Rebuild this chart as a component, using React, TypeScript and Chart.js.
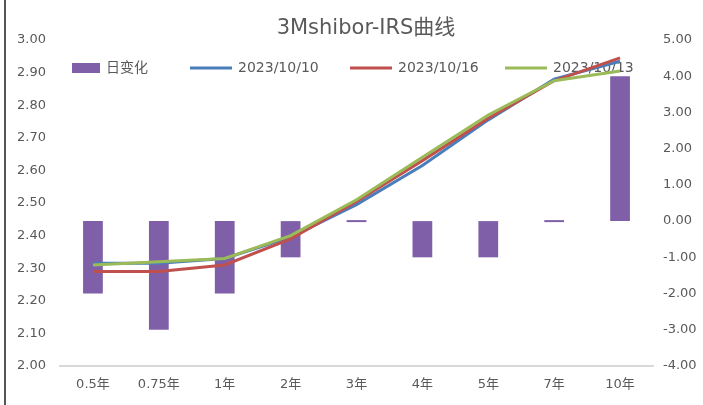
import React, { useEffect, useRef } from "react";
import { Chart, registerables } from "chart.js";

Chart.register(...registerables);

const categories = ["0.5年", "0.75年", "1年", "2年", "3年", "4年", "5年", "7年", "10年"];
const dailyChange = [-2, -3, -2, -1, 0, -1, -1, 0, 4];
const curve1010 = [2.315, 2.315, 2.33, 2.395, 2.495, 2.615, 2.755, 2.88, 2.935];
const curve1016 = [2.29, 2.29, 2.31, 2.39, 2.505, 2.63, 2.76, 2.875, 2.945];
const curve1013 = [2.31, 2.32, 2.33, 2.4, 2.51, 2.64, 2.77, 2.875, 2.905];
const seriesNames = ["日变化", "2023/10/10", "2023/10/16", "2023/10/13"];
const titleText = "3Mshibor-IRS曲线";

const FONT = "'DejaVu Sans', 'Noto Sans CJK SC', sans-serif";
const PURPLE = "#7F60A8";
const BLUE = "#4A7EBB";
const RED = "#C0504D";
const GREEN = "#9BBB59";
const TEXT = "#595959";

const overlayPlugin = {
  id: "overlay",
  beforeDatasetsDraw(chart: any) {
    const ctx = chart.ctx;
    ctx.save();
    ctx.fillStyle = TEXT;
    ctx.font = `21px ${FONT}`;
    ctx.textAlign = "center";
    ctx.textBaseline = "middle";
    ctx.fillText(titleText, 366, 29);

    const y = 68;
    ctx.font = `14px ${FONT}`;
    ctx.textAlign = "left";
    ctx.fillStyle = PURPLE;
    ctx.fillRect(72, y - 5, 28, 10);
    ctx.fillStyle = TEXT;
    ctx.fillText(seriesNames[0], 106, y);
    const items = [
      { x: 190, c: BLUE, t: seriesNames[1] },
      { x: 350, c: RED, t: seriesNames[2] },
      { x: 505, c: GREEN, t: seriesNames[3] },
    ];
    for (const it of items) {
      ctx.strokeStyle = it.c;
      ctx.lineWidth = 3;
      ctx.beginPath();
      ctx.moveTo(it.x, y);
      ctx.lineTo(it.x + 42, y);
      ctx.stroke();
      ctx.fillStyle = TEXT;
      ctx.fillText(it.t, it.x + 48, y);
    }
    ctx.restore();
  },
};

export default function App() {
  const ref = useRef<HTMLCanvasElement>(null);
  useEffect(() => {
    document.body.style.margin = "0";
    const chart = new Chart(ref.current!, {
      type: "bar",
      data: {
        labels: categories,
        datasets: [
          {
            type: "bar",
            label: seriesNames[0],
            data: dailyChange,
            backgroundColor: PURPLE,
            yAxisID: "y1",
            barPercentage: 0.3,
            categoryPercentage: 1,
            minBarLength: 2,
            order: 4,
          },
          {
            type: "line",
            label: seriesNames[1],
            data: curve1010,
            borderColor: BLUE,
            backgroundColor: BLUE,
            borderWidth: 3,
            pointRadius: 0,
            tension: 0,
            yAxisID: "y",
            order: 3,
          },
          {
            type: "line",
            label: seriesNames[2],
            data: curve1016,
            borderColor: RED,
            backgroundColor: RED,
            borderWidth: 3,
            pointRadius: 0,
            tension: 0,
            yAxisID: "y",
            order: 2,
          },
          {
            type: "line",
            label: seriesNames[3],
            data: curve1013,
            borderColor: GREEN,
            backgroundColor: GREEN,
            borderWidth: 3,
            pointRadius: 0,
            tension: 0,
            yAxisID: "y",
            order: 1,
          },
        ] as any,
      },
      options: {
        animation: false,
        responsive: true,
        maintainAspectRatio: false,
        layout: { padding: { top: 40, left: 0, right: 0, bottom: 0 } },
        plugins: {
          legend: { display: false },
          title: { display: false },
          tooltip: { enabled: false },
        },
        scales: {
          x: {
            grid: { display: false },
            border: { display: true, color: "#D9D9D9", width: 2 },
            ticks: { color: TEXT, font: { family: FONT, size: 13 }, padding: 3, maxRotation: 0 },
            afterFit(s: any) { s.height = 39; },
          },
          y: {
            position: "left",
            min: 2,
            max: 3,
            grid: { display: false },
            border: { display: false },
            ticks: {
              stepSize: 0.1,
              color: TEXT,
              font: { family: FONT, size: 13 },
              padding: 6,
              callback: (v: any) => Number(v).toFixed(2),
            },
            afterFit(s: any) { s.width = 60; },
          },
          y1: {
            position: "right",
            min: -4,
            max: 5,
            grid: { display: false },
            border: { display: false },
            ticks: {
              stepSize: 1,
              color: TEXT,
              font: { family: FONT, size: 13 },
              padding: 2,
              callback: (v: any) => Number(v).toFixed(2),
            },
            afterFit(s: any) { s.width = 50; },
          },
        },
      } as any,
      plugins: [overlayPlugin],
    });
    return () => chart.destroy();
  }, []);
  return (
    <div style={{ position: "relative", width: 703, height: 405, background: "#fff" }}>
      <canvas ref={ref} />
      <div style={{ position: "absolute", left: 4, top: 0, width: 2, height: 405, background: "#555" }} />
    </div>
  );
}
